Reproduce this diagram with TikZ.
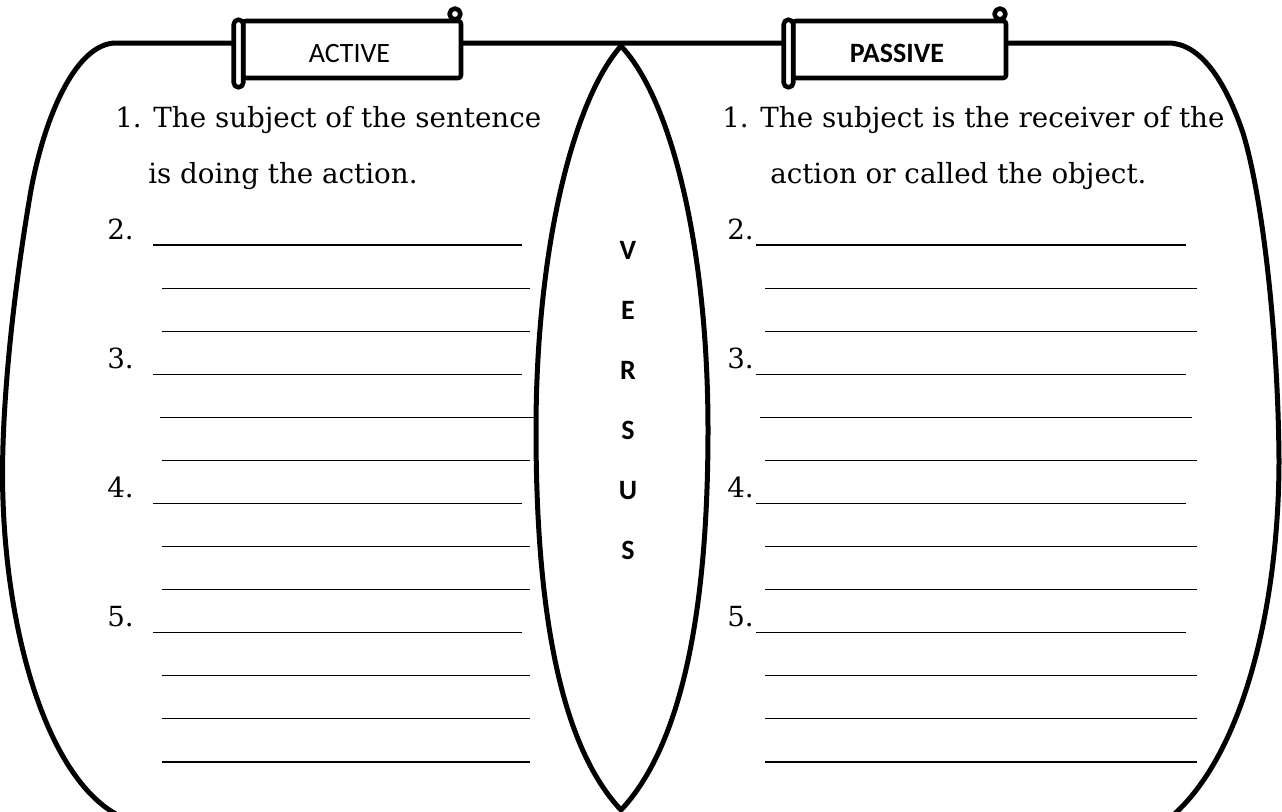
\documentclass[tikz,border=0pt]{standalone}
\usepackage{fontspec}
\setmainfont{DejaVu Serif}
\newfontfamily\calib{Carlito}
\newcommand\scrolltab[4]{%
  % #1 left x, #2 right x, #3 text, #4 name
  \draw[tabline, fill=white, rounded corners=2pt] ({#1+11},21) rectangle ({#2-2},78);
  \draw[tabline, fill=white] ({#2-8},14) circle[radius=5.5];
  \draw[tabline, fill=white, rounded corners=3.4pt] ({#1+1.75},19.75) rectangle ({#1+11.25},87.25);
  \node[tabtext, anchor=base] (#4) at ({(#1+#2)/2+2},62) {#3};
}
\begin{document}
\begin{tikzpicture}[x=0.75pt,y=-0.75pt,
  outline/.style={line width=3.75pt, line join=round, line cap=round},
  tabline/.style={line width=3.4pt, line join=round},
  blank/.style={line width=0.85pt},
  body/.style={inner sep=0pt, anchor=base west, font=\fontsize{20.8}{25}\selectfont},
  tabtext/.style={inner sep=0pt, font=\calib\fontsize{21}{25}\selectfont},
  vs/.style={inner sep=0pt, anchor=base, font=\calib\bfseries\fontsize{21}{25}\selectfont}]
\useasboundingbox (0,0) rectangle (1282,811);
\fill[white] (0,0) rectangle (1282,811);
\begin{scope}
\clip (0,0) rectangle (1282,811);
% outer shape
\draw[outline] (135,822) .. controls (55,800) and (8,650) .. (3,500)
  .. controls (0,420) and (12,300) .. (31,190)
  .. controls (46,110) and (78,43) .. (116,43) -- (1168,43)
  .. controls (1200,43) and (1225,80) .. (1243,133)
  .. controls (1262,195) and (1278,330) .. (1279,460)
  .. controls (1279,600) and (1245,760) .. (1165,822);
% middle lens
\draw[outline] (621,46) .. controls (573,100) and (536,250) .. (536,430)
  .. controls (536,610) and (560,745) .. (621,810)
  .. controls (682,745) and (708,610) .. (708,430)
  .. controls (708,250) and (672,100) .. (621,46);
\end{scope}
% tabs
\scrolltab{232}{463}{ACTIVE}{active}
\scrolltab{782}{1008}{\bfseries PASSIVE}{passive}
% first items
\node[body] (l1) at (115,127) {1. The subject of the sentence};
\node[body] (l1b) at (148,183) {is doing the action.};
\node[body] (r1) at (722,127) {1. The subject is the receiver of the};
\node[body] (r1b) at (770,183) {action or called the object.};
% numbers
\foreach \n/\k in {2/0,3/3,4/6,5/9}{
  \node[body] (ln\n) at (107,{245+43.08*\k-6}) {\n.};
  \node[body] (rn\n) at (727,{245+43.08*\k-6}) {\n.};
}
% blank lines
\foreach \k in {0,3,6,9}{
  \draw[blank] (153,{245+43.08*\k}) -- (522,{245+43.08*\k});
  \draw[blank] (756,{245+43.08*\k}) -- (1186,{245+43.08*\k});
}
\foreach \k in {1,2,5,7,8,10,11,12}{
  \draw[blank] (162,{245+43.08*\k}) -- (530,{245+43.08*\k});
  \draw[blank] (765,{245+43.08*\k}) -- (1197,{245+43.08*\k});
}
\draw[blank] (160,{245+43.08*4}) -- (537,{245+43.08*4});
\draw[blank] (760,{245+43.08*4}) -- (1192,{245+43.08*4});
% VERSUS
\node[vs] (v1) at (628,259) {V};
\node[vs] (v2) at (628,319) {E};
\node[vs] (v3) at (628,379) {R};
\node[vs] (v4) at (628,439) {S};
\node[vs] (v5) at (628,499) {U};
\node[vs] (v6) at (628,559) {S};
\end{tikzpicture}
\end{document}
